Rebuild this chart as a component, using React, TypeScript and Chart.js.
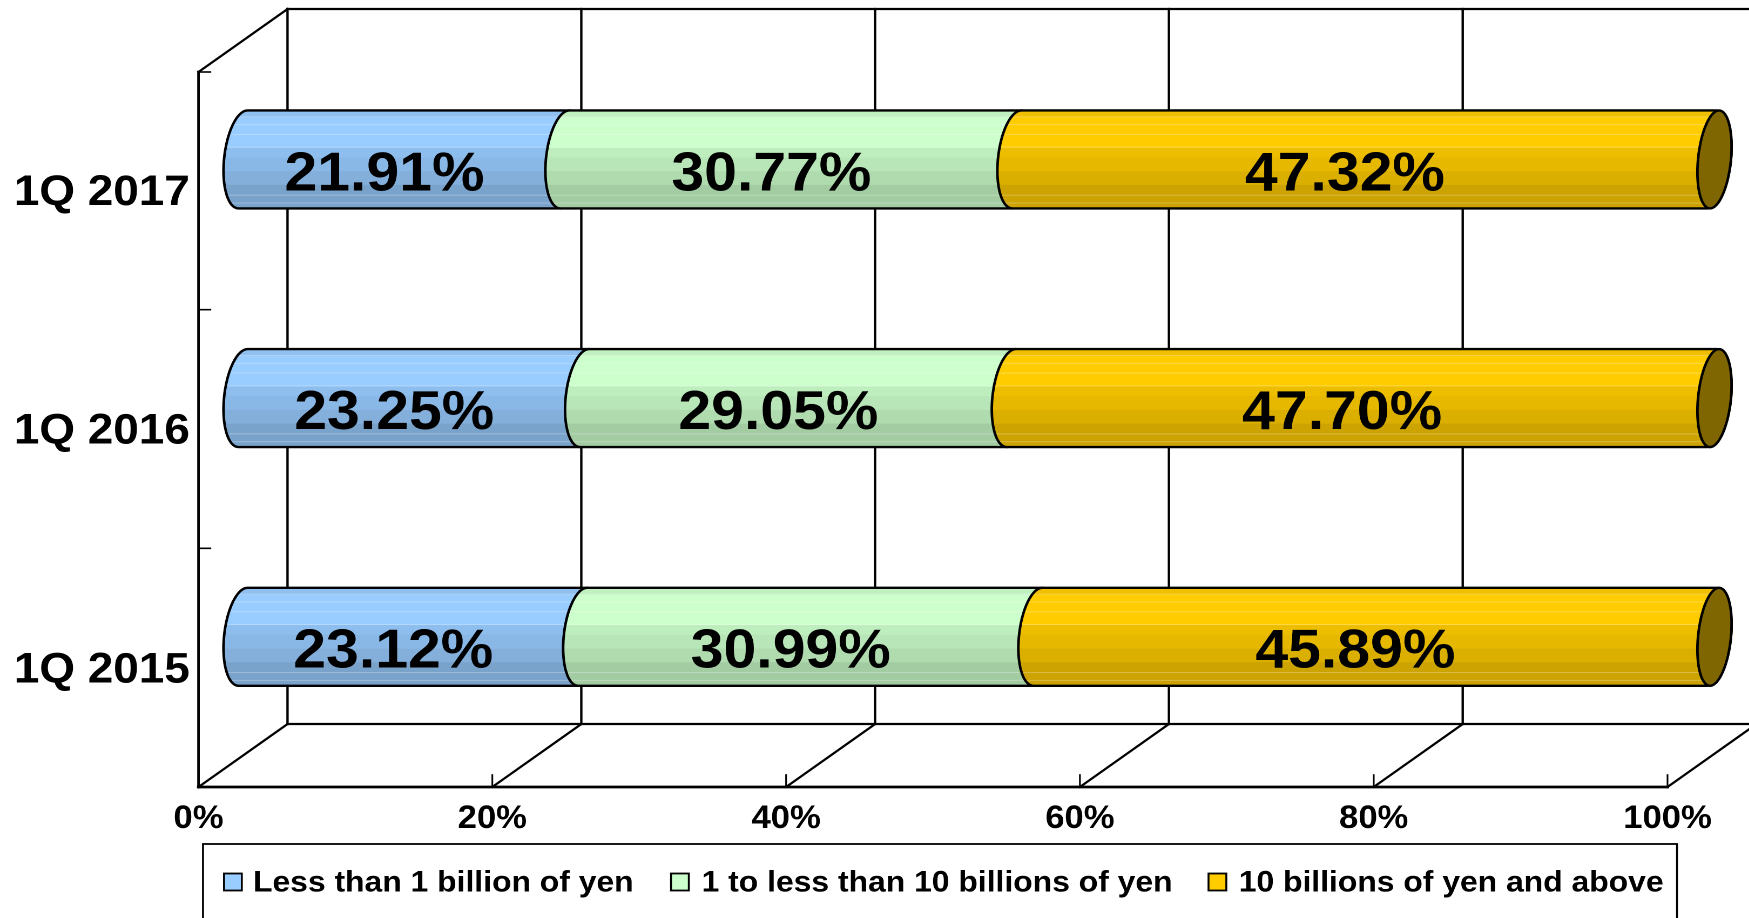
import React, { useEffect, useRef } from "react";
import { Chart, registerables } from "chart.js";

Chart.register(...registerables);

const categories = ["1Q 2017", "1Q 2016", "1Q 2015"];
const seriesNames = [
  "Less than 1 billion of yen",
  "1 to less than 10 billions of yen",
  "10 billions of yen and above",
];
const lessThanOne = [21.91, 23.25, 23.12];
const oneToTen = [30.77, 29.05, 30.99];
const tenAndAbove = [47.32, 47.7, 45.89];
const seriesColors = ["#99CCFF", "#CCFFCC", "#FFCC00"];

// The whole picture is slightly wider than tall, as in the reference.
const STRETCH = 1.08;
const W = 1620;
const H = 918;
const FONT = '"Liberation Sans", Arial, sans-serif';
const DEPTH_X = 89 / STRETCH;
const DEPTH_Y = 63;
const RX = 19 / STRETCH;
const CAP_RX = 16.5 / STRETCH;
const CAP_SHIFT = 2.5 / STRETCH;
const SKEW = 4.5 / STRETCH;
const BANDS: [number, number, number][] = [
  [0, 0.07, 0.94],
  [0.07, 0.38, 1],
  [0.38, 0.48, 0.93],
  [0.48, 0.62, 0.9],
  [0.62, 0.76, 0.86],
  [0.76, 1, 0.8],
];
const STRIPES = [0.06, 0.14, 0.24, 0.37, 0.86, 0.94];
const LEGEND_BOX = { x: 203, y: 844, right: 1677 };
const LEGEND_SWATCH_X = [224, 671, 1208.5];
const LEGEND_TEXT_X = [253, 701.6, 1238.7];
const LEGEND_BASE = 891.5;

const shade = (hex: string, f: number) => {
  const n = parseInt(hex.slice(1), 16);
  const c = [(n >> 16) & 255, (n >> 8) & 255, n & 255].map((v) => Math.round(v * f));
  return `rgb(${c[0]},${c[1]},${c[2]})`;
};

const line = (ctx: CanvasRenderingContext2D, x0: number, y0: number, x1: number, y1: number, w = 2.2) => {
  ctx.beginPath();
  ctx.lineWidth = w;
  ctx.moveTo(x0, y0);
  ctx.lineTo(x1, y1);
  ctx.stroke();
};

const cylinderPath = (ctx: CanvasRenderingContext2D, x0: number, x1: number, cy: number, b: number) => {
  const k = -SKEW / b;
  const pt = (cx: number, t: number) => [cx + RX * Math.cos(t) + k * b * Math.sin(t), cy + b * Math.sin(t)];
  ctx.beginPath();
  for (let i = 0; i <= 32; i++) {
    const t = Math.PI * 1.5 - (Math.PI * i) / 32;
    const [x, y] = pt(x0, t);
    if (i === 0) ctx.moveTo(x, y);
    else ctx.lineTo(x, y);
  }
  for (let i = 0; i <= 32; i++) {
    const t = Math.PI / 2 - (Math.PI * i) / 32;
    const [x, y] = pt(x1, t);
    ctx.lineTo(x, y);
  }
  ctx.closePath();
};

const capPath = (ctx: CanvasRenderingContext2D, cx: number, cy: number, b: number) => {
  const k = -SKEW / b;
  ctx.beginPath();
  for (let i = 0; i <= 64; i++) {
    const t = (Math.PI * 2 * i) / 64;
    const x = cx + CAP_RX * Math.cos(t) + k * b * Math.sin(t);
    const y = cy + b * Math.sin(t);
    if (i === 0) ctx.moveTo(x, y);
    else ctx.lineTo(x, y);
  }
  ctx.closePath();
};

const scene = {
  id: "scene",
  beforeDatasetsDraw(chart: any) {
    const { ctx, scales } = chart;
    const xs = scales.x;
    const ys = scales.y;
    const left = xs.getPixelForValue(0);
    const bottom = ys.bottom;
    const top = ys.top;
    const wallTop = top + 1;
    const band = (ys.bottom - ys.top) / categories.length;
    const ticks = xs.ticks.map((t: any) => xs.getPixelForValue(t.value));

    ctx.save();
    ctx.strokeStyle = "#000";
    ctx.lineCap = "square";

    // back wall and floor
    line(ctx, left + DEPTH_X, wallTop - DEPTH_Y, W, wallTop - DEPTH_Y);
    line(ctx, left + DEPTH_X, bottom - DEPTH_Y, W, bottom - DEPTH_Y);
    ticks.forEach((x: number) => {
      line(ctx, x + DEPTH_X, wallTop - DEPTH_Y, x + DEPTH_X, bottom - DEPTH_Y);
      line(ctx, x, bottom, x + DEPTH_X, bottom - DEPTH_Y);
      line(ctx, x, bottom, x, bottom - 12, 1.6);
    });

    // side wall and front axis
    line(ctx, left, wallTop, left + DEPTH_X, wallTop - DEPTH_Y);
    line(ctx, left, wallTop, left, bottom, 2.4);
    line(ctx, left, bottom, xs.getPixelForValue(100), bottom, 2.8);
    for (let i = 0; i < categories.length; i++) {
      const y = i === 0 ? wallTop : top + band * i;
      line(ctx, left, y, left + 11, y, 1.6);
    }
    ctx.lineCap = "butt";

    // cylinders, later series over earlier
    chart.data.datasets.forEach((ds: any, di: number) => {
      const meta = chart.getDatasetMeta(di);
      meta.data.forEach((bar: any) => {
        const p = bar.getProps(["x", "y", "base", "height"], true);
        const cy = p.y - DEPTH_Y / 2 + 0.6;
        const b = p.height / 2;
        const x0 = p.base + DEPTH_X / 2;
        const x1 = p.x + DEPTH_X / 2;
        const yTop = cy - b;
        ctx.save();
        cylinderPath(ctx, x0, x1, cy, b);
        ctx.clip();
        BANDS.forEach(([from, to, f]) => {
          ctx.fillStyle = shade(ds.backgroundColor, f);
          ctx.fillRect(x0 - RX * 2, yTop + from * p.height, x1 - x0 + RX * 4, (to - from) * p.height + 0.5);
        });
        ctx.fillStyle = "rgba(255,255,255,0.28)";
        STRIPES.forEach((s) => ctx.fillRect(x0 - RX * 2, yTop + s * p.height, x1 - x0 + RX * 4, 1));
        ctx.restore();
        cylinderPath(ctx, x0, x1, cy, b);
        ctx.lineWidth = 2.4;
        ctx.strokeStyle = "#000";
        ctx.stroke();
        if (di === chart.data.datasets.length - 1) {
          capPath(ctx, x1 + CAP_SHIFT, cy, b);
          ctx.fillStyle = shade(ds.backgroundColor, 0.5);
          ctx.fill();
          ctx.stroke();
        }
      });
    });

    // value labels
    ctx.fillStyle = "#000";
    ctx.textAlign = "center";
    ctx.textBaseline = "alphabetic";
    ctx.font = `bold 54.6px ${FONT}`;
    chart.data.datasets.forEach((ds: any, di: number) => {
      chart.getDatasetMeta(di).data.forEach((bar: any, i: number) => {
        const p = bar.getProps(["x", "y", "base"], true);
        ctx.fillText(ds.data[i].toFixed(2) + "%", (p.base + p.x) / 2 + DEPTH_X / 4 + 2.5, p.y);
      });
    });

    // legend
    ctx.strokeStyle = "#000";
    ctx.lineWidth = 1.8;
    ctx.strokeRect(LEGEND_BOX.x / STRETCH, LEGEND_BOX.y, (LEGEND_BOX.right - LEGEND_BOX.x) / STRETCH, 120);
    ctx.textAlign = "left";
    ctx.font = `bold 29.5px ${FONT}`;
    chart.data.datasets.forEach((ds: any, di: number) => {
      ctx.fillStyle = ds.backgroundColor;
      ctx.fillRect(LEGEND_SWATCH_X[di] / STRETCH, LEGEND_BASE - 18, 16.5, 17);
      ctx.lineWidth = 1.8;
      ctx.strokeRect(LEGEND_SWATCH_X[di] / STRETCH, LEGEND_BASE - 18, 16.5, 17);
      ctx.fillStyle = "#000";
      ctx.fillText(ds.label, LEGEND_TEXT_X[di] / STRETCH, LEGEND_BASE);
    });
    ctx.restore();
    return false;
  },
};

export default function App() {
  const ref = useRef<HTMLCanvasElement>(null);
  useEffect(() => {
    const values = [lessThanOne, oneToTen, tenAndAbove];
    const chart = new Chart(ref.current as HTMLCanvasElement, {
      type: "bar",
      data: {
        labels: categories,
        datasets: seriesNames.map((label, i) => ({
          label,
          data: values[i],
          backgroundColor: seriesColors[i],
          barThickness: 98,
          stack: "s",
        })),
      },
      options: {
        indexAxis: "y",
        responsive: false,
        animation: false,
        devicePixelRatio: 2,
        layout: { padding: { left: 0, top: 71, right: W - 1667.5 / STRETCH, bottom: 0 } },
        plugins: { legend: { display: false }, tooltip: { enabled: false }, title: { display: false } },
        scales: {
          x: {
            stacked: true,
            min: 0,
            max: 100,
            grid: { display: false },
            border: { display: false },
            afterFit: (s: any) => {
              s.height = 131;
            },
            ticks: {
              stepSize: 20,
              padding: 5,
              color: "#000",
              maxRotation: 0,
              font: { family: FONT, weight: "bold", size: 32 },
              callback: (v: any) => v + "%",
            },
          },
          y: {
            stacked: true,
            grid: { display: false },
            border: { display: false },
            afterFit: (s: any) => {
              s.width = 198.5 / STRETCH;
            },
            ticks: {
              padding: 0,
              labelOffset: 3,
              color: "#000",
              font: { family: FONT, weight: "bold", size: 42.5 },
            },
          },
        },
      },
      plugins: [scene],
    } as any);
    return () => chart.destroy();
  }, []);
  return (
    <div style={{ position: "absolute", left: 0, top: 0, width: 1749, height: 918, overflow: "hidden", background: "#fff" }}>
      <div style={{ width: W, height: H, transform: `scaleX(${STRETCH})`, transformOrigin: "0 0" }}>
        <canvas ref={ref} width={W} height={H} style={{ display: "block", width: W, height: H }} />
      </div>
    </div>
  );
}
